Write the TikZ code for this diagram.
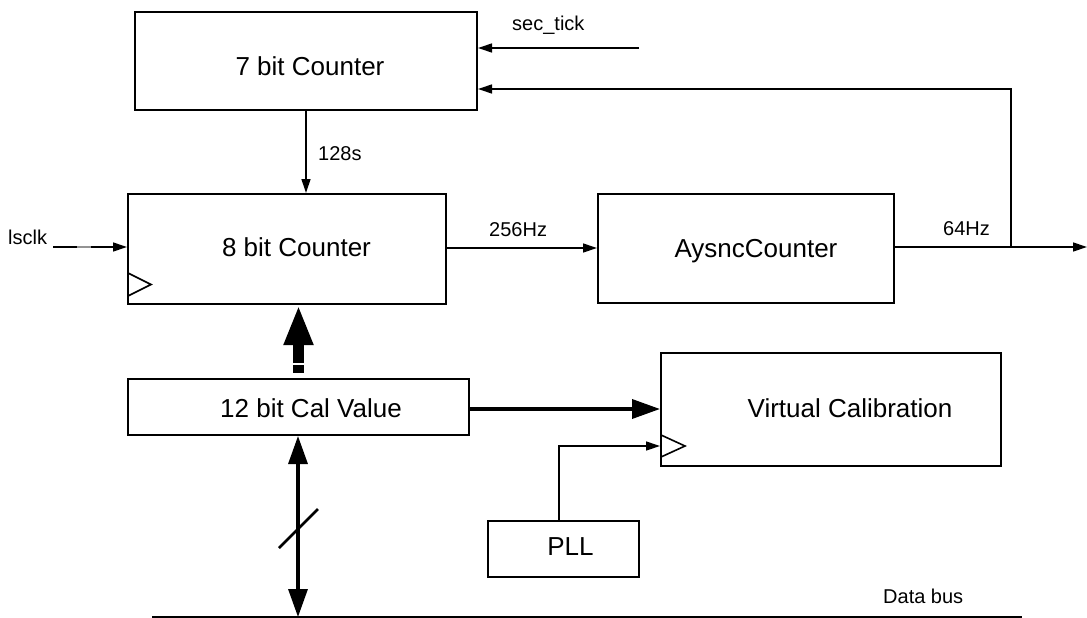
\documentclass[tikz,border=0pt]{standalone}
\usepackage{fontspec}
\setmainfont{Liberation Sans}
\usetikzlibrary{arrows.meta}
\tikzset{
 box/.style={draw, line width=2pt, inner sep=0pt, anchor=north west},
 big/.style={font=\fontsize{26}{30}\selectfont, inner sep=0pt, anchor=base},
 small/.style={font=\fontsize{20}{24}\selectfont, inner sep=0pt, anchor=base west},
 arr/.style={line width=1.3pt, -{Triangle[length=14pt,width=9pt]}},
 clk/.style={line width=1.6pt},
 fatarr/.style={line width=3.6pt, -{Triangle[length=28pt,width=19pt]}},
 busarr/.style={line width=3.3pt, {Triangle[length=28pt,width=19pt]}-{Triangle[length=28pt,width=19pt]}},
}
\begin{document}
\begin{tikzpicture}[x=1pt,y=-1pt]
\useasboundingbox (0,0) rectangle (1087,618);
% boxes
\node[box, minimum width=342pt, minimum height=98pt] (c7) at (134,11) {};
\node[box, minimum width=318pt, minimum height=110pt] (c8) at (127,193) {};
\node[box, minimum width=296pt, minimum height=109pt] (as) at (597,193) {};
\node[box, minimum width=341pt, minimum height=56pt] (cal) at (127,378) {};
\node[box, minimum width=340pt, minimum height=113pt] (vc) at (660,352) {};
\node[box, minimum width=151pt, minimum height=56pt] (pll) at (487,520) {};
% box texts
\node[big] (t7) at (310,75) {7 bit Counter};
\node[big] (t8) at (296.5,256) {8 bit Counter};
\node[big] (tas) at (756,257) {AysncCounter};
\node[big] (tcal) at (311,417) {12 bit Cal Value};
\node[big] (tvc) at (850,417) {Virtual Calibration};
\node[big] (tpll) at (570.5,555) {PLL};
% clock triangles
\draw[clk] (128,273) -- (151,284.5) -- (128,296);
\draw[clk] (661,435) -- (685,446) -- (661,457);
% labels
\node[small] (lsclk) at (8,244) {lsclk};
\node[small] (l128) at (318,160) {128s};
\node[small] (l256) at (489,236) {256Hz};
\node[small] (l64) at (943,235) {64Hz};
\node[small] (lsec) at (512,31) {sec\_tick};
\node[small] (lbus) at (883,603) {Data bus};
% coordinates
\coordinate (lin) at (53,247);
\coordinate (st) at (639,48);
\coordinate (mid) at (520,248);
\coordinate (out) at (1087,247);
\coordinate (j) at (1011,247);
\coordinate (fb) at (1011,89);
\coordinate (pclk) at (559,446);
\coordinate (calout) at (468,409);
\coordinate (busL) at (152,617);
\coordinate (busR) at (1022,617);
\coordinate (bb) at (298,617);
\coordinate (ux) at (298.5,363);
\coordinate (usq) at (298.5,365);
\coordinate (usq2) at (298.5,373);
% connectors
\draw[arr] (lin) -- (lin -| c8.west);
\draw[gray!85, line width=2pt] (77,247) -- (91,247);
\draw[arr] (c7.south) -- (c7.south |- c8.north);
\draw[arr] (st) -- (st -| c7.east);
\draw[arr] (mid -| c8.east) -- (mid -| as.west);
\draw[arr] (out -| as.east) -- (out);
\draw[arr] (j) -- (fb) -- (fb -| c7.east);
\draw[fatarr] (calout) -- (calout -| vc.west);
\draw[arr] (pclk |- pll.north) -- (pclk) -- (pclk -| vc.west);
% thick upward arrow
\draw[line width=11pt, -{Triangle[length=40pt,width=27pt]}] (ux) -- (ux |- c8.south);
\draw[line width=11pt] (usq) -- (usq2);
% bus arrow
\draw[busarr] (bb |- cal.south) -- (bb);
\draw[line width=2.5pt] (279,548) -- (318,509);
\draw[line width=2pt] (busL) -- (busR);
\end{tikzpicture}
\end{document}
